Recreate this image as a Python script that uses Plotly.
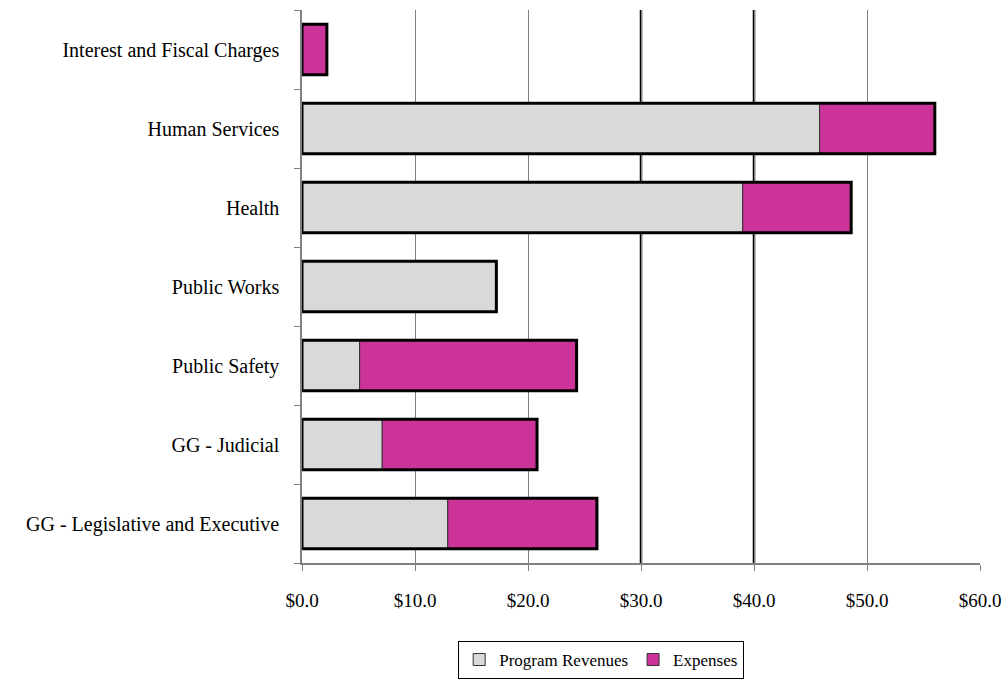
import plotly.graph_objects as go

# Functions, bottom to top
categories = [
    "GG - Legislative and Executive",
    "GG - Judicial",
    "Public Safety",
    "Public Works",
    "Health",
    "Human Services",
    "Interest and Fiscal Charges",
]
# Millions of dollars
program_revenues = [12.9, 7.1, 5.1, 17.2, 39.0, 45.8, 0.0]
expenses = [13.2, 13.7, 19.2, 0.0, 9.6, 10.2, 2.2]

x_ticks = [0, 10, 20, 30, 40, 50, 60]
x_tick_text = ["$0.0", "$10.0", "$20.0", "$30.0", "$40.0", "$50.0", "$60.0"]
bold_grid = [30, 40]

totals = [r + e for r, e in zip(program_revenues, expenses)]

GRAY = "#D9D9D9"
MAGENTA = "#CC3399"
FONT = "Liberation Serif"

fig = go.Figure()
fig.add_trace(go.Bar(
    y=categories, x=program_revenues, orientation="h", name="Program Revenues",
    marker=dict(color=GRAY, line=dict(color="#333333", width=1)),
    width=0.64,
))
fig.add_trace(go.Bar(
    y=categories, x=expenses, base=program_revenues, orientation="h", name="Expenses",
    marker=dict(color=MAGENTA, line=dict(color="#333333", width=1)),
    width=0.64,
))
# heavy outline around each full bar
fig.add_trace(go.Bar(
    y=categories, x=totals, orientation="h", showlegend=False, hoverinfo="skip",
    marker=dict(color="rgba(0,0,0,0)", line=dict(color="black", width=3)),
    width=0.64,
))

for gx in bold_grid:
    fig.add_shape(type="line", xref="x", yref="paper", x0=gx, x1=gx, y0=0, y1=1,
                  line=dict(color="black", width=2.5), layer="below")

fig.update_layout(
    barmode="overlay",
    width=1002, height=679,
    margin=dict(l=302, r=22, t=10, b=116, autoexpand=False),
    paper_bgcolor="white", plot_bgcolor="white",
    font=dict(family=FONT, size=20, color="black"),
    showlegend=True,
    legend=dict(
        orientation="h", xref="container", x=0.6, xanchor="center",
        yref="container", y=0.056, yanchor="top",
        bordercolor="black", borderwidth=1, font=dict(size=17, family=FONT),
        itemwidth=30, traceorder="normal",
    ),
)
fig.update_xaxes(
    range=[0, 60], tickvals=x_ticks, ticktext=x_tick_text,
    showgrid=True, gridcolor="#808080", gridwidth=1,
    showline=True, linecolor="#808080", linewidth=1.5,
    ticks="outside", ticklen=6, tickcolor="#808080",
    ticklabelstandoff=13, zeroline=False, ticklabeloverflow="allow",
    tickfont=dict(size=19), automargin=False,
)
fig.update_yaxes(
    categoryorder="array", categoryarray=categories,
    showline=True, linecolor="#808080", linewidth=1.5,
    ticks="outside", ticklen=6, tickcolor="#808080", tickson="boundaries",
    ticklabelstandoff=17, showgrid=False, range=[-0.5, 6.5], automargin=False,
)

fig.write_html("out.html")
